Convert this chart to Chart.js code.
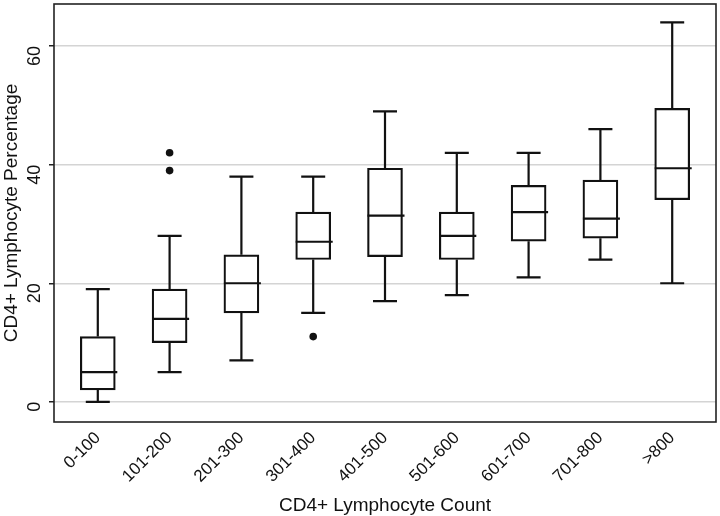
<!DOCTYPE html>
<html>
<head>
<meta charset="utf-8">
<script src="https://cdn.jsdelivr.net/npm/chart.js@4/dist/chart.umd.min.js"></script>
<style>
  html, body { margin: 0; padding: 0; background: #fff; }
  #wrap { width: 720px; height: 516px; position: relative; }
</style>
</head>
<body>
<div id="wrap"><canvas id="boxChart"></canvas></div>
<script>
// CD4+ count groups and box plot statistics
const categories = ["0-100", "101-200", "201-300", "301-400", "401-500", "501-600", "601-700", "701-800", ">800"];
const whiskerLow = [0, 5, 7, 15, 17, 18, 21, 24, 20];
const q1 = [2, 10, 15, 24, 24.5, 24, 27.1, 27.6, 34.1];
const median = [5, 14, 20, 27, 31.4, 28, 32, 30.9, 39.4];
const q3 = [11, 19, 24.8, 32, 39.4, 32, 36.5, 37.4, 49.5];
const whiskerHigh = [19, 28, 38, 38, 49, 42, 42, 46, 64];
// outliers: category index + value
const outlierIdx = [1, 1, 3];
const outlierVal = [42, 39, 11];
const yTicks = [0, 20, 40, 60];

const FONT = "'Liberation Sans', Arial, Helvetica, sans-serif";
const INK = "#111";

// whiskers, caps and medians drawn from the scales
const boxExtras = {
  id: "boxExtras",
  afterDatasetsDraw(chart) {
    const { ctx, scales: { x, y } } = chart;
    const half = 17.5;
    const cap = 12;
    ctx.save();
    ctx.strokeStyle = INK;
    ctx.lineWidth = 2.2;
    ctx.lineCap = "butt";
    categories.forEach((c, i) => {
      const px = x.getPixelForValue(i);
      ctx.beginPath();
      ctx.moveTo(px, y.getPixelForValue(q3[i]));
      ctx.lineTo(px, y.getPixelForValue(whiskerHigh[i]));
      ctx.moveTo(px, y.getPixelForValue(q1[i]));
      ctx.lineTo(px, y.getPixelForValue(whiskerLow[i]));
      ctx.moveTo(px - cap, y.getPixelForValue(whiskerHigh[i]));
      ctx.lineTo(px + cap, y.getPixelForValue(whiskerHigh[i]));
      ctx.moveTo(px - cap, y.getPixelForValue(whiskerLow[i]));
      ctx.lineTo(px + cap, y.getPixelForValue(whiskerLow[i]));
      ctx.moveTo(px - half, y.getPixelForValue(median[i]));
      ctx.lineTo(px + half + 2, y.getPixelForValue(median[i]));
      ctx.stroke();
    });
    // frame around plot area
    const a = chart.chartArea;
    ctx.strokeStyle = "#222";
    ctx.lineWidth = 1.6;
    ctx.strokeRect(a.left, a.top, a.right - a.left, a.bottom - a.top);
    ctx.restore();
  }
};

new Chart(document.getElementById("boxChart"), {
  type: "bar",
  data: {
    datasets: [
      {
        type: "bar",
        data: categories.map((c, i) => ({ x: i, y: [q1[i], q3[i]] })),
        backgroundColor: "#fff",
        borderColor: INK,
        borderWidth: 2.2,
        borderSkipped: false,
        barThickness: 35,
      },
      {
        type: "scatter",
        data: outlierIdx.map((idx, k) => ({ x: idx, y: outlierVal[k] })),
        pointRadius: 3.8,
        pointBackgroundColor: INK,
        pointBorderWidth: 0,
      },
    ],
  },
  options: {
    responsive: true,
    maintainAspectRatio: false,
    animation: false,
    layout: { padding: { top: 2, right: 3, left: 0, bottom: 0 } },
    plugins: { legend: { display: false }, tooltip: { enabled: false } },
    scales: {
      x: {
        type: "linear",
        offset: false,
        min: -0.61,
        max: 8.61,
        afterBuildTicks: (axis) => {
          axis.ticks = categories.map((c, i) => ({ value: i }));
        },
        afterFit: (axis) => {
          axis.height = 94;
          axis.paddingLeft = 0;
          axis.paddingRight = 0;
        },
        grid: { display: false },
        border: { display: false },
        ticks: {
          callback: (v) => categories[v],
          color: INK,
          font: { family: FONT, size: 17 },
          minRotation: 45,
          maxRotation: 45,
          padding: -2,
        },
        title: {
          display: true,
          text: "CD4+ Lymphocyte Count",
          color: INK,
          font: { family: FONT, size: 19, lineHeight: 1.05 },
          padding: { top: 6, bottom: 0 },
        },
      },
      y: {
        min: -3.4,
        max: 67.1,
        afterBuildTicks: (axis) => {
          axis.ticks = yTicks.map((v) => ({ value: v }));
        },
        afterFit: (axis) => {
          axis.width = 54;
          axis.paddingTop = 0;
          axis.paddingBottom = 0;
        },
        grid: { color: "#d4d4d4", lineWidth: 1.5, tickColor: "#222", tickLength: 5 },
        border: { display: false },
        ticks: {
          color: INK,
          font: { family: FONT, size: 18 },
          minRotation: 90,
          maxRotation: 90,
          padding: 14,
        },
        title: {
          display: true,
          text: "CD4+ Lymphocyte Percentage",
          color: INK,
          font: { family: FONT, size: 19 },
          padding: { top: 0, bottom: 2 },
        },
      },
    },
  },
  plugins: [boxExtras],
});
</script>
</body>
</html>
